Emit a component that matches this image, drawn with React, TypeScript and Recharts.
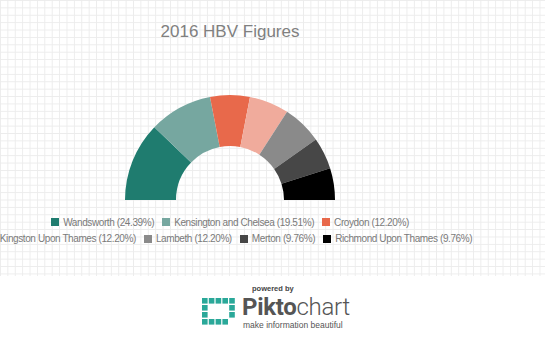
import { PieChart, Pie, Cell, Legend } from "recharts";

// 2016 HBV cases by borough (counts out of 41)
const boroughs = [
  "Wandsworth",
  "Kensington and Chelsea",
  "Croydon",
  "Kingston Upon Thames",
  "Lambeth",
  "Merton",
  "Richmond Upon Thames",
];
const cases = [10, 8, 5, 5, 5, 4, 4];
const colours = ["#1f7c6f", "#76a7a0", "#e8694b", "#f0ab9c", "#8a8a8a", "#474747", "#000000"];
const legendRowSizes = [3, 4];

const total = cases.reduce((a, b) => a + b, 0);
const data = boroughs.map((name, i) => ({
  name,
  value: cases[i],
  pct: ((cases[i] / total) * 100).toFixed(2),
}));

const FONT = "'Liberation Sans', Arial, sans-serif";

// P-ish logo made of little squares
const logoCells = [
  [1, 1, 1, 1, 1],
  [1, 0, 0, 0, 1],
  [1, 0, 0, 0, 1],
  [1, 1, 1, 1, 0],
];

function HbvLegend() {
  let start = 0;
  const rows = legendRowSizes.map((n) => {
    const items = data.slice(start, start + n).map((d, k) => ({ ...d, idx: start + k }));
    start += n;
    return items;
  });
  return (
    <div style={{ width: 460, fontFamily: FONT, fontSize: 10, letterSpacing: -0.4, color: "#7a7a7a" }}>
      {rows.map((row, r) => (
        <div
          key={r}
          style={{ display: "flex", justifyContent: "center", alignItems: "center", height: 16.5, whiteSpace: "nowrap" }}
        >
          {row.map((d, k) => (
            <span
              key={d.name}
              style={{ display: "flex", alignItems: "center", marginRight: k === row.length - 1 ? 0 : 8 }}
            >
              <span style={{ width: 8, height: 8, background: colours[d.idx], marginRight: 4, display: "inline-block" }} />
              {d.name} ({d.pct}%)
            </span>
          ))}
        </div>
      ))}
    </div>
  );
}

export default function App() {
  return (
    <div style={{ position: "absolute", left: 0, top: 0, width: 545, height: 340, background: "#fff", overflow: "hidden" }}>
      <div
        style={{
          position: "absolute",
          left: 0,
          top: 0,
          width: 545,
          height: 276,
          backgroundImage:
            "linear-gradient(to right, #ececec 1px, transparent 1px), linear-gradient(to bottom, #ececec 1px, transparent 1px)",
          backgroundSize: "7.4px 7.4px",
        }}
      />
      <div
        style={{
          position: "absolute",
          left: 0,
          top: 22,
          width: 460,
          textAlign: "center",
          fontFamily: FONT,
          fontSize: 17,
          color: "#808080",
        }}
      >
        2016 HBV Figures
      </div>
      <div style={{ position: "absolute", left: 0, top: 0 }}>
        <PieChart width={545} height={276} margin={{ top: 0, right: 0, bottom: 0, left: 0 }}>
          <Pie
            data={data}
            dataKey="value"
            nameKey="name"
            cx={230}
            cy={200}
            innerRadius={54}
            outerRadius={105}
            startAngle={180}
            endAngle={0}
            stroke="none"
            isAnimationActive={false}
          >
            {data.map((d, i) => (
              <Cell key={d.name} fill={colours[i]} />
            ))}
          </Pie>
          <Legend
            content={() => <HbvLegend />}
            wrapperStyle={{ position: "absolute", left: 0, top: 214, width: 460 }}
          />
        </PieChart>
      </div>

      {/* footer */}
      <div
        style={{
          position: "absolute",
          left: 252,
          top: 284,
          fontFamily: FONT,
          fontSize: 7.5,
          fontWeight: "bold",
          color: "#444",
        }}
      >
        powered by
      </div>
      <svg style={{ position: "absolute", left: 202, top: 298 }} width={34} height={28}>
        {logoCells.map((row, r) =>
          row.map((c, k) =>
            c ? <rect key={`${r}-${k}`} x={k * 6.8} y={r * 7} width={5.6} height={5.6} fill="#2aa899" /> : null
          )
        )}
      </svg>
      <div
        style={{
          position: "absolute",
          left: 242,
          top: 293,
          fontFamily: "Roboto, sans-serif",
          fontSize: 24,
          color: "#555",
          letterSpacing: -0.3,
          whiteSpace: "nowrap",
        }}
      >
        <span style={{ fontWeight: 700 }}>Pikto</span>
        <span style={{ fontWeight: 300 }}>chart</span>
      </div>
      <div
        style={{
          position: "absolute",
          left: 243,
          top: 320,
          fontFamily: FONT,
          fontSize: 8.5,
          color: "#555",
          whiteSpace: "nowrap",
        }}
      >
        make information beautiful
      </div>
    </div>
  );
}
